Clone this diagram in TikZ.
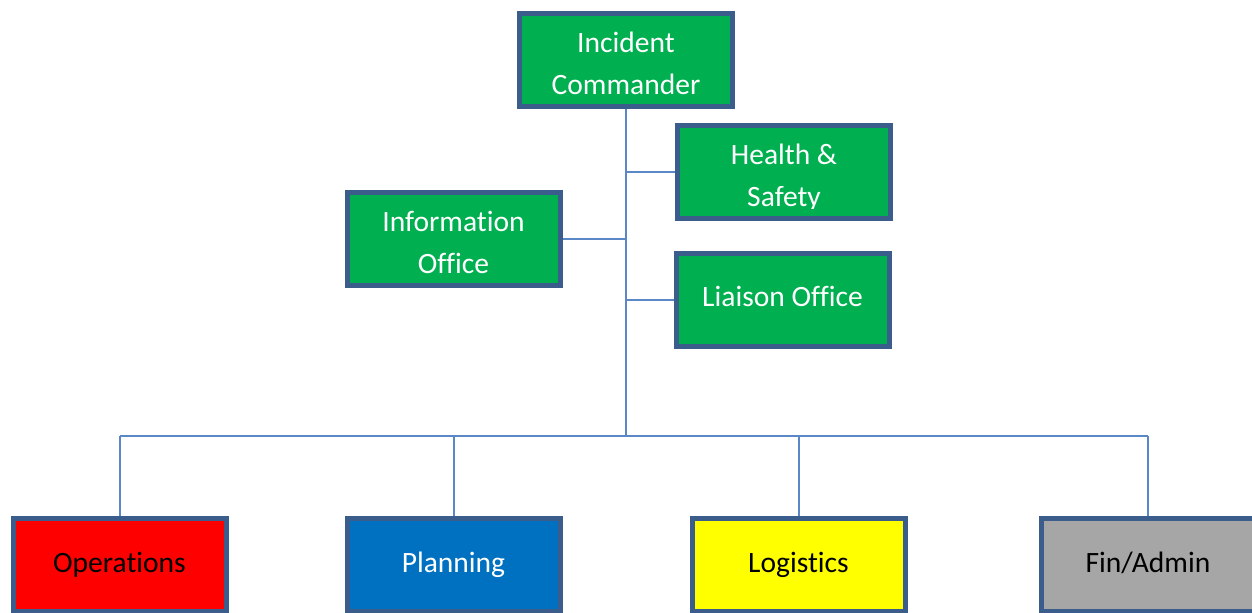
\documentclass[tikz,border=0pt]{standalone}
\usepackage{fontspec}
\usepackage{adjustbox}
\setmainfont{Carlito}[Ligatures=NoCommon]
\usetikzlibrary{backgrounds}
\definecolor{boxgreen}{HTML}{00B050}
\definecolor{boxedge}{HTML}{3B5D8B}
\definecolor{linkblue}{HTML}{5A88C6}
\definecolor{opsred}{HTML}{FF0000}
\definecolor{planblue}{HTML}{0070C0}
\definecolor{logiyellow}{HTML}{FFFF00}
\definecolor{fingray}{HTML}{A6A6A6}
\newcommand\padtop{\rule{0pt}{19.5pt}}
\newcommand\padbot{\rule[-4pt]{0pt}{4pt}}

\begin{document}
\begin{tikzpicture}[
		box/.style={draw=boxedge, line width=0.1cm, minimum width=4.26cm, minimum height=1.86cm,
			align=center, inner sep=0pt, font=\fontsize{16.8}{23.5}\selectfont},
		solo/.style={text height=12pt, text depth=4pt},
		staff/.style={box, fill=boxgreen, text=white},
		conn/.style={draw=linkblue, line width=0.04cm}
	]
		%%%%% START %%%%%
		\useasboundingbox (0, 0) rectangle (25.04, -12.24);
		
		\node[staff] (ic) at (12.52, -1.2) {\padtop Incident\\Commander\padbot};
		\node[staff] (hs) at (15.68, -3.44) {\padtop Health \&\\\clipbox{0pt 1.4pt 0pt 0pt}{Safety}\padbot};
		\node[staff] (info) at (9.07, -4.78) {\padtop Information\\Office\padbot};
		\node[staff, solo] (liaison) at (15.65, -5.99) {Liaison Office};
		
		\node[box, solo, fill=opsred, text=black] (ops) at (2.39, -11.3) {Operations};
		\node[box, solo, fill=planblue, text=white] (plan) at (9.07, -11.3) {Planning};
		\node[box, solo, fill=logiyellow, text=black] (logi) at (15.97, -11.3) {Logistics};
		\node[box, solo, fill=fingray, text=black] (fin) at (22.96, -11.3) {Fin/Admin};
		
		\coordinate (bus) at (12.52, -8.72);
		
		\begin{scope}[on background layer]
		\draw[conn] (ic.south) -- (bus);
		\draw[conn] (hs.west -| bus) -- (hs.west);
		\draw[conn] (info.east -| bus) -- (info.east);
		\draw[conn] (liaison.west -| bus) -- (liaison.west);
		
		\draw[conn] (ops.north |- bus) -- (fin.north |- bus);
		\draw[conn] (ops.north |- bus) -- (ops.north);
		\draw[conn] (plan.north |- bus) -- (plan.north);
		\draw[conn] (logi.north |- bus) -- (logi.north);
		\draw[conn] (fin.north |- bus) -- (fin.north);
		\end{scope}
		%%%%% END %%%%%
	\end{tikzpicture}
\end{document}
